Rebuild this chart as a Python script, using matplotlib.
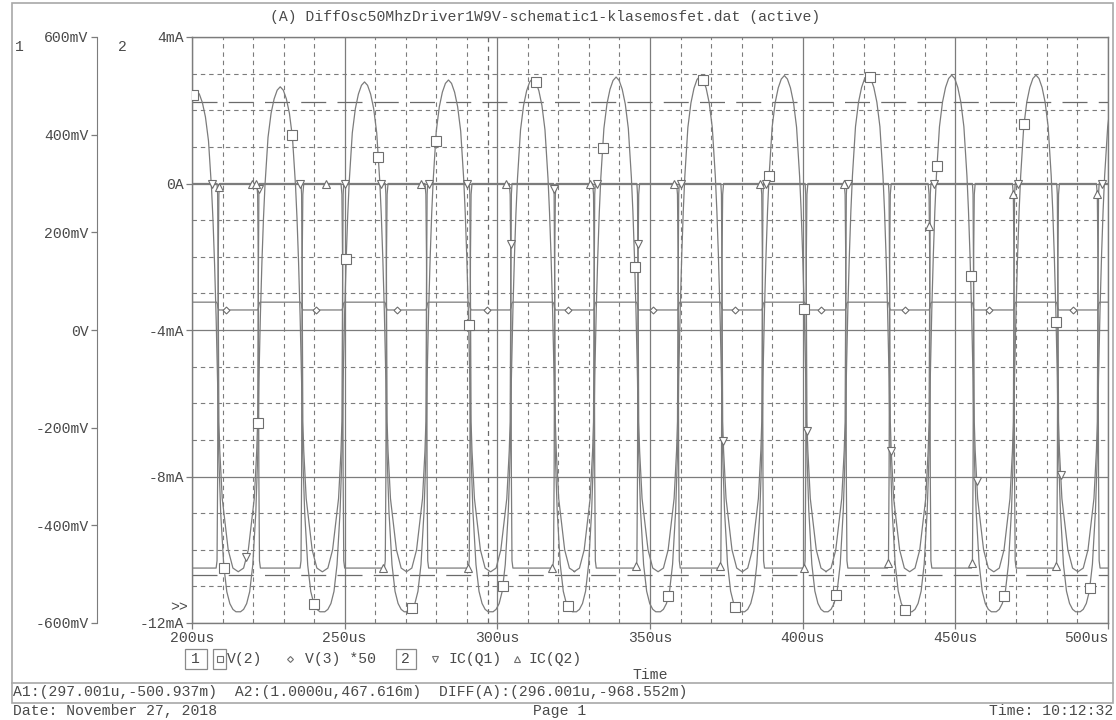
import matplotlib.pyplot as plt
import numpy as np
from matplotlib.patches import Rectangle
from matplotlib.lines import Line2D

plt.rcParams['font.family'] = ['Liberation Mono', 'DejaVu Sans Mono']
plt.rcParams['axes.unicode_minus'] = False

# ---- data ----
# times of the V(2) peaks (us) and their heights (mV)
peak_times = [201.4, 228.9, 256.5, 284.0, 311.6, 338.9, 366.4, 394.0, 421.3, 448.8, 476.4, 503.9]
peak_mv = [490, 498, 508, 512, 515, 518, 520, 521, 522, 522, 522, 522]

# one half period of each trace, as offset from the V(2) peak (us)
v2_tau = [0, 1, 2, 3, 4, 5, 5.5, 6, 6.5, 7, 7.35, 8, 9, 10, 11, 12, 13, 13.75]
v2_mv = [515, 508, 490, 460, 410, 310, 240, 150, 40, -100, -246, -370, -480, -535, -560, -572, -577, -577]

v3_tau = [0, 6.6, 6.9, 7.1, 7.4, 13.75]
v3_mv = [57, 57, 54, 46, 41, 41]          # V(3)*50

ic_tau = [0, 6.5, 6.8, 7.0, 7.2, 7.4, 7.7, 8.5, 10.45, 12, 13.75]
icq1_ma = [0, 0, 0, -0.3, -3, -6.5, -7.3, -8.6, -10.0, -10.5, -10.6]
icq2_ma = [-10.5, -10.5, -10.3, -8, -2, -0.3, 0, 0, 0, 0, 0]

# marker times (us) for each trace
v2_marks = [200.3, 210.5, 221.7, 232.8, 240.0, 250.5, 261.0, 272.2, 279.8, 290.6, 301.8, 312.5, 323.0,
            334.5, 345.0, 356.0, 367.5, 378.0, 389.0, 400.5, 411.0, 422.0, 433.5, 444.0, 455.0, 466.0,
            472.5, 483.0, 494.0]
v3_marks = [211.0, 240.5, 267.0, 296.5, 323.0, 351.0, 378.0, 406.0, 433.5, 461.0, 488.5]
q1_marks = [206.5, 217.8, 222.0, 235.5, 250.0, 262.0, 277.5, 290.0, 304.5, 318.5, 332.5, 346.0,
            360.0, 374.0, 388.0, 401.5, 415.0, 429.0, 443.0, 457.0, 470.5, 484.5, 498.0]
q2_marks = [209.0, 219.5, 221.0, 244.0, 262.5, 275.0, 290.5, 303.0, 318.0, 330.5, 345.5, 358.0,
            373.0, 386.0, 400.5, 413.5, 428.0, 441.5, 455.5, 469.0, 483.0, 496.5]

x_ticks = [200, 250, 300, 350, 400, 450, 500]
x_labels = ['200us', '250us', '300us', '350us', '400us', '450us', '500us']
ya_ticks = [4, 0, -4, -8, -12]
ya_labels = ['4mA', '0A', '-4mA', '-8mA', '-12mA']
yv_ticks = [600, 400, 200, 0, -200, -400, -600]
yv_labels = ['600mV', '400mV', '200mV', '0V', '-200mV', '-400mV', '-600mV']

cursor_a1 = (297.001, -500.937)
cursor_a2 = (1.0, 467.616)

W, H = 1116, 720
line_c = '#7c7c7c'
text_c = '#4a4a4a'


def fx(x):
    return x / W


def fy(y):
    return 1 - y / H


def mv_to_ma(v):
    # axis 1 (-600..600 mV) drawn on axis 2 (-12..4 mA)
    return (np.asarray(v, float) + 600) / 1200 * 16 - 12


def build(tau, vals, scale=None):
    tau = np.asarray(tau, float)
    vals = np.asarray(vals, float)
    full_tau = np.concatenate([-tau[::-1], tau[1:]])
    full_val = np.concatenate([vals[::-1], vals[1:]])
    ts, vs = [], []
    for i, p in enumerate(peak_times):
        v = full_val
        if scale is not None:
            low = vals.min()
            v = low + (full_val - low) * (scale[i] - low) / (vals.max() - low)
        ts.append(p + full_tau)
        vs.append(v)
    return np.concatenate(ts), np.concatenate(vs)


fig = plt.figure(figsize=(W / 100, H / 100), dpi=100)

# frame around the page
fig.add_artist(Rectangle((fx(12), fy(703)), fx(1113) - fx(12), fy(3) - fy(703),
                         transform=fig.transFigure, fill=False, edgecolor='#a8a8a8', lw=1.2))
fig.add_artist(Line2D([fx(12), fx(1113)], [fy(683), fy(683)], transform=fig.transFigure,
                      color='#a8a8a8', lw=1.2))

ax = fig.add_axes([fx(192), fy(623), fx(1108) - fx(192), fy(37) - fy(623)])
ax.set_xlim(200, 500)
ax.set_ylim(-12, 4)

# grid
for t in range(200, 501, 10):
    if t % 50 == 0:
        ax.axvline(t, color=line_c, lw=0.9, zorder=1)
    else:
        ax.axvline(t, color=line_c, lw=0.8, ls=(0, (4, 3.5)), zorder=1)
for v in range(-12, 5):
    if v % 4 == 0:
        ax.axhline(v, color=line_c, lw=0.9, zorder=1)
    else:
        ax.axhline(v, color=line_c, lw=0.8, ls=(0, (4, 3.5)), zorder=1)

# cursors
ax.axhline(mv_to_ma(cursor_a2[1]), color='#6a6a6a', lw=0.9, ls=(0, (20, 9)), zorder=2)
ax.axhline(mv_to_ma(cursor_a1[1]), color='#6a6a6a', lw=0.9, ls=(0, (20, 9)), zorder=2)
ax.axvline(cursor_a1[0], color='#6a6a6a', lw=0.9, ls=(0, (4, 3.5)), zorder=2)

# traces
t2, v2 = build(v2_tau, v2_mv, scale=peak_mv)
t3, v3 = build(v3_tau, v3_mv)
tq1, q1 = build(ic_tau, icq1_ma)
tq2, q2 = build(ic_tau, icq2_ma)

traces = [
    (t2, mv_to_ma(v2), v2_marks, 's', 6.5),
    (t3, mv_to_ma(v3), v3_marks, 'D', 3.5),
    (tq1, q1, q1_marks, 'v', 5.5),
    (tq2, q2, q2_marks, '^', 5.5),
]
for t, y, marks, m, ms in traces:
    ax.plot(t, y, color=line_c, lw=0.9, zorder=3)
    ax.plot(marks, np.interp(marks, t, y), ls='none', marker=m, ms=ms, mfc='white',
            mec='#6e6e6e', mew=0.8, zorder=4)

for s in ax.spines.values():
    s.set_color(line_c)
    s.set_linewidth(1.0)
ax.set_xticks(x_ticks)
ax.set_xticklabels(x_labels)
ax.set_yticks(ya_ticks)
ax.set_yticklabels(ya_labels)
ax.tick_params(direction='out', length=4, width=0.9, color=line_c, labelcolor=text_c,
               labelsize=10.6, pad=2)
ax.get_xticklabels()[-1].set_horizontalalignment('right')

# axis 1 (voltage) on the far left
ax1 = fig.add_axes([fx(97), fy(623), 0.0001, fy(37) - fy(623)])
ax1.set_ylim(-600, 600)
ax1.set_xticks([])
ax1.set_yticks(yv_ticks)
ax1.set_yticklabels(yv_labels)
for k in ['top', 'right', 'bottom']:
    ax1.spines[k].set_visible(False)
ax1.spines['left'].set_color(line_c)
ax1.tick_params(direction='out', length=4, width=0.9, color=line_c, labelcolor=text_c,
                labelsize=10.6, pad=2)

fs = 10.6
fig.text(fx(15), fy(47), '1', fontsize=fs, color=text_c, va='center')
fig.text(fx(118), fy(47), '2', fontsize=fs, color=text_c, va='center')
fig.text(fx(170), fy(607), '>>', fontsize=fs, color=text_c, va='center')

fig.text(fx(545), fy(17), '(A) DiffOsc50MhzDriver1W9V-schematic1-klasemosfet.dat (active)',
         fontsize=fs, color=text_c, ha='center', va='center')

# legend row
ly = fy(659)
fig.text(fx(191), ly, '1', fontsize=fs, color=text_c, va='center')
fig.text(fx(227), ly, 'V(2)', fontsize=fs, color=text_c, va='center')
fig.text(fx(305), ly, 'V(3) *50', fontsize=fs, color=text_c, va='center')
fig.text(fx(401), ly, '2', fontsize=fs, color=text_c, va='center')
fig.text(fx(449), ly, 'IC(Q1)', fontsize=fs, color=text_c, va='center')
fig.text(fx(528), ly, 'IC(Q2)', fontsize=fs, color=text_c, va='center')
for x0, x1 in [(185, 207), (213, 226), (396, 416)]:
    fig.add_artist(Rectangle((fx(x0), fy(669)), fx(x1) - fx(x0), fy(649) - fy(669),
                             transform=fig.transFigure, fill=False, edgecolor='#8a8a8a', lw=0.9))
for x, m, ms in [(219.5, 's', 4), (290, 'D', 3), (435, 'v', 4.5), (517, '^', 4.5)]:
    fig.add_artist(Line2D([fx(x)], [ly], transform=fig.transFigure, marker=m, ms=ms,
                          mfc='white', mec='#6e6e6e', mew=0.8, ls='none'))

fig.text(fx(650), fy(675), 'Time', fontsize=fs, color=text_c, ha='center', va='center')
fig.text(fx(13), fy(692),
         'A1:(297.001u,-500.937m)  A2:(1.0000u,467.616m)  DIFF(A):(296.001u,-968.552m)',
         fontsize=fs, color=text_c, va='center')
fig.text(fx(13), fy(711), 'Date: November 27, 2018', fontsize=fs, color=text_c, va='center')
fig.text(fx(560), fy(711), 'Page 1', fontsize=fs, color=text_c, ha='center', va='center')
fig.text(fx(1113), fy(711), 'Time: 10:12:32', fontsize=fs, color=text_c, ha='right', va='center')

plt.savefig('out.png', dpi=100)
